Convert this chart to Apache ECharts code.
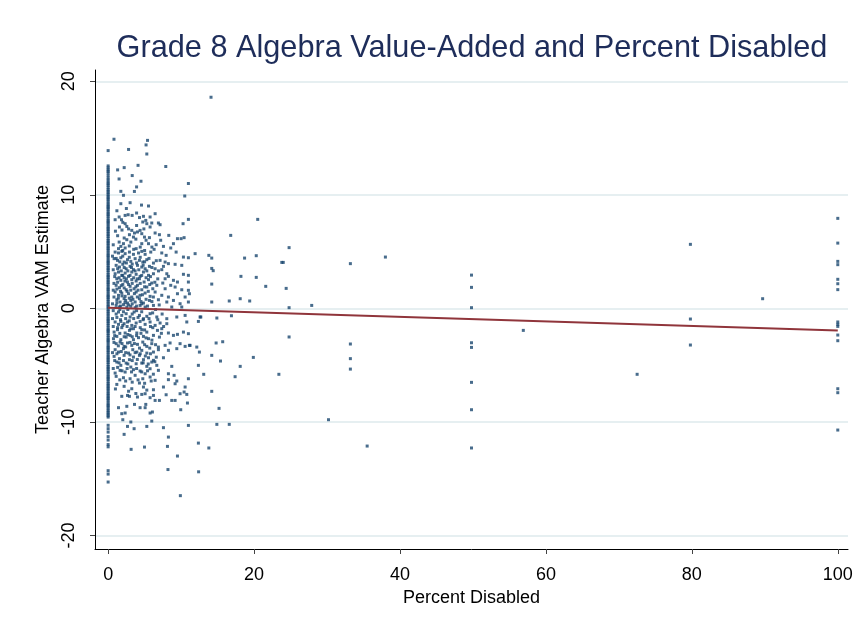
<!DOCTYPE html>
<html>
<head>
<meta charset="utf-8">
<script src="https://cdn.jsdelivr.net/npm/echarts@6/dist/echarts.min.js"></script>
<style>html,body{margin:0;padding:0;background:#fff;}#chart{width:862px;height:631px;}</style>
</head>
<body>
<div id="chart"></div>
<script>
// ---------- DATA ----------
const chartTitle = "Grade 8 Algebra Value-Added and Percent Disabled";
const xAxisTitle = "Percent Disabled";
const yAxisTitle = "Teacher Algebra VAM Estimate";
const xTickValues = [0, 20, 40, 60, 80, 100];
const yTickValues = [-20, -10, 0, 10, 20];

// teachers with 0% disabled (VAM estimates)
const zeroPctVam = [13.9, 12.55, 12.21, 11.93, 11.48, 11.12, 10.84, 10.47, 10.19, 9.88, 9.61, 9.27, 8.98, 8.73, 8.39,
  8.12, 7.76, 7.51, 7.18, 6.92, 6.61, 6.33, 5.98, 5.72, 5.41, 5.13, 4.79, 4.52, 4.18, 3.93, 3.61, 3.34, 2.97,
  2.72, 2.41, 2.13, 1.79, 1.52, 1.18, 0.94, 0.62, 0.31, 0.04, -0.27, -0.58, -0.91, -1.17, -1.49, -1.83, -2.06,
  -2.38, -2.71, -2.96, -3.32, -3.58, -3.87, -4.21, -4.49, -4.77, -5.12, -5.38, -5.69, -6.02, -6.28, -6.63,
  -6.91, -7.19, -7.52, -7.81, -8.08, -8.43, -8.69, -9.02, -9.31, -9.58, -10.3, -10.6, -10.9, -11.3, -11.6,
  -12.0, -12.2, -14.3, -14.6, -15.3];
const zeroPctVamMore = [12.38, 12.07, 11.7, 11.31, 10.98, 10.66, 10.33, 10.04, 9.74, 9.45, 9.12, 8.86, 8.55, 8.26,
  7.94, 7.63, 7.35, 7.05, 6.77, 6.47, 6.15, 5.85, 5.56, 5.27, 4.96, 4.65, 4.35, 4.06, 3.77, 3.47, 3.16, 2.85,
  2.56, 2.27, 1.96, 1.66, 1.35, 1.06, 0.78, 0.47, 0.17, -0.12, -0.43, -0.75, -1.04, -1.33, -1.66, -1.95, -2.22,
  -2.55, -2.84, -3.14, -3.45, -3.73, -4.04, -4.35, -4.63, -4.95, -5.25, -5.54, -5.86, -6.15, -6.46, -6.77,
  -7.05, -7.36, -7.66, -7.94, -8.26, -8.56, -8.86, -9.17, -9.45];

// [percent disabled, VAM] – upper part of cluster
const clusterHigh = [[14.1,18.6],[0.8,14.9],[2.8,14.0],[5.4,14.8],[5.2,14.4],[5.3,13.6],[1.3,12.2],[2.2,12.4],
  [4.1,12.6],[7.9,12.5],[1.5,11.4],[3.3,11.7],[4.5,11.2],[3.9,10.7],[3.6,10.3],[11.0,11.0],[10.5,9.9],
  [1.74,10.31],[2.10,9.96],[1.74,9.22],[3.01,9.31],[4.57,9.10],[5.53,9.02],[3.29,8.19],[2.74,8.25],[2.33,8.19],
  [1.51,8.05],[0.96,7.81],[1.83,7.81],[2.01,7.58],[2.33,7.46],[1.55,7.17],[2.56,7.22],[4.84,8.11],[5.16,7.75],
  [5.75,8.05],[6.44,8.34],[4.75,7.61],[5.30,7.46],[5.98,7.52],[6.89,7.52],[7.12,7.37],[5.75,7.17],[3.24,6.87],
  [3.61,6.64],[4.02,6.73],[4.38,6.87],[2.92,6.49],[3.47,6.28],[2.56,6.05],[3.11,5.84],[2.10,5.70],[1.51,5.84],
  [1.74,5.46],[2.33,5.32],[4.61,6.58],[4.98,6.28],[5.66,6.23],[6.44,6.64],[7.03,6.49],[8.31,6.43],[8.95,5.70],
  [9.50,6.14],[10.0,6.14],[10.41,6.23],[10.27,7.46],[11.0,7.84],[5.53,5.70],[6.58,5.61],[7.58,5.46],[8.58,5.32],
  [4.61,5.70],[3.84,5.26],[1.42,5.26]];

// middle of cluster (VAM between about 5 and -1)
const clusterMid = [[0.96,4.96],[1.42,4.88],[1.87,5.02],[2.33,4.82],[2.92,4.96],[3.47,4.76],[4.16,4.88],[4.61,5.02],
  [5.07,4.76],[5.84,4.96],[7.35,4.88],[7.95,4.67],[9.32,4.96],[10.32,4.52],[11.0,4.46],[11.92,4.82],
  [0.82,4.38],[1.28,4.23],[1.74,4.46],[2.19,4.08],[2.65,4.29],[3.11,4.14],[3.70,4.38],[4.29,4.23],[4.75,4.08],
  [5.30,4.29],[6.21,3.99],[7.12,4.23],[7.81,4.08],[8.26,3.94],[9.18,3.88],[10.09,3.79],
  [1.10,3.79],[1.55,3.64],[2.01,3.88],[2.47,3.49],[3.01,3.70],[3.47,3.41],[4.02,3.79],[4.61,3.64],[5.07,3.49],
  [5.66,3.70],[6.44,3.49],[7.35,3.41],[7.58,3.70],
  [0.96,3.05],[1.42,3.20],[1.87,2.91],[2.33,3.11],[2.79,2.82],[3.24,3.20],[3.84,3.00],[4.38,2.82],[4.84,3.20],
  [5.53,2.91],[6.21,3.05],[8.04,3.05],[8.26,2.82],[10.32,3.00],[11.0,2.91],
  [1.19,2.61],[1.74,2.47],[2.19,2.70],[2.65,2.32],[3.24,2.53],[3.84,2.41],[4.29,2.61],[4.93,2.32],[5.53,2.53],
  [5.98,2.23],[7.49,2.23],[7.81,2.61],[8.95,2.47],[9.50,2.32],[11.0,2.32],
  [1.10,2.03],[1.55,1.82],[2.01,2.11],[2.47,1.64],[3.01,1.94],[3.56,1.73],[4.02,2.03],[4.61,1.64],[5.30,1.88],
  [6.12,1.73],[6.67,2.03],[7.81,1.73],[8.58,2.03],[9.18,1.88],[10.09,1.64],[11.0,1.59],
  [0.96,1.44],[1.42,1.15],[1.87,1.35],[2.33,1.06],[2.79,1.29],[3.24,1.00],[3.84,1.44],[4.38,1.15],[5.07,1.35],
  [5.75,1.06],[6.44,1.44],[7.35,1.15],[8.26,1.00],[9.50,1.29],[10.55,1.00],[11.14,1.29],
  [1.19,0.76],[1.64,0.56],[2.19,0.85],[2.65,0.47],[3.11,0.70],[3.70,0.56],[4.29,0.85],[4.84,0.47],[5.66,0.70],
  [6.89,0.76],[8.04,0.56],[8.95,0.70],[9.86,0.41],[11.0,0.56],
  [1.10,0.26],[1.55,0.12],[2.10,0.32],[2.56,0.12],[3.11,0.18],[3.70,0.06],[4.38,0.26],[5.07,0.12],[6.21,0.26],
  [8.72,0.12],[10.09,0.12],
  [1.42,-0.32],[1.87,-0.62],[2.47,-0.47],[3.01,-0.76],[3.56,-0.32],[4.29,-0.62],[4.84,-0.91],[5.75,-0.47],
  [6.67,-0.76],[8.04,-0.91],[9.41,-0.76],[10.55,-0.62],[12.6,-0.76]];

// dense core of the cluster (additional teachers)
const clusterCore = [[1.2,8.6],[2.5,8.8],[3.9,8.4],[1.9,6.9],[2.8,7.0],[3.9,7.3],[4.3,8.0],[1.3,6.4],[2.2,6.2],
  [3.8,6.1],[4.9,7.0],[5.2,6.0],[6.0,5.4],[1.0,6.8],[2.0,5.1],[2.9,5.5],[3.5,5.2],[4.4,5.4],[5.0,5.1],[6.3,5.2],
  [7.2,6.0],[0.7,5.6],
  [0.6,4.6],[1.1,4.4],[1.6,4.1],[2.0,4.6],[2.5,4.0],[2.9,4.5],[3.3,3.9],[3.9,4.0],[4.4,4.5],[5.0,4.1],[5.6,4.4],
  [6.6,4.2],[0.7,3.4],[1.3,3.5],[1.8,3.3],[2.2,3.6],[2.7,3.3],[3.2,3.6],[3.7,3.3],[4.2,3.4],[4.8,3.8],[5.3,3.3],
  [6.0,3.6],[6.9,3.3],[0.9,2.8],[1.5,2.7],[2.0,2.9],[2.5,2.6],[3.0,2.9],[3.5,2.7],[4.0,2.6],[4.6,2.9],[5.2,2.7],
  [5.8,2.8],[6.8,2.6],[0.8,2.2],[1.3,2.3],[1.8,2.0],[2.3,2.4],[2.8,2.1],[3.3,2.2],[3.8,1.9],[4.4,2.2],[5.0,1.9],
  [5.7,2.1],[6.4,2.3],[0.7,1.6],[1.2,1.7],[1.7,1.5],[2.2,1.8],[2.6,1.5],[3.1,1.6],[3.6,1.3],[4.1,1.6],[4.7,1.2],
  [5.5,1.5],[6.2,1.0],[0.8,1.0],[1.4,0.9],[1.9,1.1],[2.4,0.7],[2.9,0.9],[3.4,0.8],[4.0,1.0],[4.5,0.6],[5.2,0.8],
  [6.0,0.6],[7.0,0.3],[0.6,0.4],[1.2,0.5],[1.7,0.2],[2.3,0.5],[2.8,0.3],[3.3,0.4],[3.9,0.2],[4.6,0.4],[5.4,0.2],
  [6.5,-0.1],[0.7,-0.2],[1.1,-0.5],[1.6,-0.1],[2.1,-0.3],[2.7,-0.1],[3.3,-0.5],[3.9,-0.2],[4.6,-0.3],[5.3,-0.7],
  [6.1,-0.4],[7.4,-0.5],
  [0.6,-0.9],[1.2,-0.8],[1.7,-1.0],[2.4,-0.9],[2.9,-1.1],[3.5,-0.9],[4.1,-0.8],[4.8,-1.0],[5.6,-0.9],[6.8,-1.0],
  [0.7,-1.6],[1.3,-1.7],[2.0,-1.5],[2.6,-1.6],[3.1,-1.8],[3.7,-1.6],[4.4,-1.7],[5.0,-1.9],[5.8,-1.6],[7.6,-1.6],
  [0.9,-2.4],[1.6,-2.2],[2.2,-2.5],[2.7,-2.3],[3.3,-2.5],[3.9,-2.4],[4.5,-2.2],[5.2,-2.6],[6.0,-2.8],[7.3,-2.2],
  [0.8,-3.0],[1.4,-3.3],[1.9,-3.1],[2.4,-3.4],[3.0,-3.0],[3.6,-3.1],[4.3,-3.5],[5.0,-3.2],[5.7,-3.5],[6.5,-3.2],
  [0.6,-3.9],[1.2,-4.0],[1.8,-3.8],[2.4,-3.9],[3.0,-4.1],[3.7,-3.9],[4.4,-4.0],[5.1,-4.2],[5.8,-4.0],[6.6,-4.3],
  [0.9,-4.6],[1.5,-4.8],[2.1,-4.6],[2.7,-4.9],[3.3,-4.6],[4.0,-4.5],[4.8,-4.8],[5.5,-4.9],[6.4,-4.7],
  [0.7,-5.3],[1.3,-5.2],[1.9,-5.5],[2.6,-5.3],[3.2,-5.6],[3.9,-5.3],[4.6,-5.6],[5.4,-5.5],[6.2,-5.8],
  [1.6,-6.3],[2.4,-6.4],[3.3,-6.5],[4.1,-6.3],[5.0,-6.6],[5.9,-6.4],[1.0,-7.1],[2.8,-7.3],[3.8,-7.5],[5.3,-7.2]];

// lower part of cluster
const clusterLow = [[0.96,-1.20],[1.42,-1.41],[1.74,-1.15],[2.19,-1.35],[2.65,-1.20],[3.24,-1.50],[3.84,-1.29],
  [4.38,-1.15],[5.07,-1.41],[5.75,-1.20],[6.44,-1.50],[7.12,-1.29],[8.04,-1.35],[10.78,-1.20],[12.37,-1.15],
  [0.82,-2.09],[1.28,-1.88],[1.87,-1.70],[2.33,-2.17],[2.92,-1.94],[3.47,-1.79],[3.93,-2.17],[4.61,-1.88],
  [5.30,-2.09],[6.12,-1.70],[6.76,-1.94],[7.35,-1.79],[8.26,-2.17],[8.95,-2.38],[9.50,-2.29],[10.32,-2.09],
  [11.0,-2.23],[11.14,-3.26],
  [0.73,-2.67],[1.19,-2.47],[1.74,-2.76],[2.47,-2.53],[3.01,-2.38],[3.47,-2.76],[4.16,-2.58],[4.84,-2.47],
  [5.53,-2.67],[6.21,-2.38],[7.03,-2.53],[8.49,-3.05],[9.86,-3.11],[10.55,-3.35],[11.23,-3.26],[12.15,-3.41],
  [1.10,-3.11],[1.64,-2.97],[2.19,-3.35],[2.65,-3.05],[3.24,-3.26],[4.02,-3.17],[4.75,-2.97],[5.30,-3.35],
  [5.98,-3.11],[6.89,-3.41],[7.81,-3.26],
  [0.96,-3.64],[1.42,-3.85],[2.10,-3.55],[2.79,-3.94],[3.38,-3.64],[3.93,-3.85],[4.61,-3.70],[5.30,-3.94],
  [6.21,-3.85],[6.89,-3.64],[8.26,-3.70],[9.41,-3.55],[12.51,-3.85],
  [0.82,-4.23],[1.55,-4.43],[2.19,-4.14],[2.92,-4.52],[3.47,-4.29],[4.29,-4.14],[4.84,-4.52],[5.53,-4.35],
  [6.21,-4.58],[7.58,-4.35],
  [1.19,-4.73],[1.74,-5.02],[2.47,-4.82],[3.11,-5.17],[3.84,-4.88],[4.61,-4.82],[5.30,-5.11],[5.98,-4.73],
  [6.67,-5.02],[8.72,-5.11],[12.37,-5.02],
  [0.96,-5.70],[1.64,-5.46],[2.33,-5.61],[3.47,-5.40],[4.38,-5.52],[5.07,-5.76],[5.75,-5.32],[6.89,-5.46],
  [8.26,-5.76],[9.04,-5.90],
  [1.10,-5.99],[2.10,-6.11],[3.01,-6.20],[3.70,-5.90],[4.75,-6.20],[5.75,-6.05],[6.44,-6.34],[8.26,-6.28],
  [9.41,-6.40],[11.0,-6.20],
  [1.19,-6.70],[2.19,-6.87],[3.24,-7.08],[4.29,-6.58],[4.84,-6.93],[6.21,-7.17],[7.58,-6.93],[9.18,-6.64],
  [10.55,-6.93],
  [1.87,-7.75],[2.65,-7.67],[2.92,-7.75],[4.02,-7.81],[4.61,-7.58],[5.07,-7.52],[5.75,-7.87],[6.21,-7.67],
  [6.44,-8.11],[7.03,-8.11],[7.95,-7.61],[8.72,-8.11],[9.18,-8.11],[9.86,-7.52],[10.41,-7.37],[10.78,-7.58],
  [10.87,-8.34],[9.95,-8.93],
  [1.42,-8.75],[1.87,-9.28],[2.33,-9.22],[2.01,-9.81],[3.61,-8.46],[4.38,-8.75],[5.07,-8.75],[5.16,-8.46],
  [5.75,-9.22],[6.07,-9.13],[2.56,-8.63],[3.11,-10.01],[2.65,-10.40],[3.56,-10.60],[5.30,-10.40],[5.98,-9.93],
  [7.58,-10.51],[11.0,-10.31],
  [2.19,-11.10],[8.26,-11.34],[12.37,-11.87],[3.15,-12.42],[4.98,-12.22],[8.13,-12.16],[9.50,-13.01],
  [8.2,-14.2],[12.4,-14.4],[9.9,-16.5]];

// schools with higher percent disabled
const sparsePoints = [[13.8,4.67],[14.2,4.43],[14.2,3.52],[14.4,3.32],[14.2,2.14],[14.2,0.56],[12.7,-0.76],
  [14.9,-0.85],[14.8,-3.05],[14.2,-4.14],[13.1,-5.81],[14.2,-7.31],[15.2,-8.81],[14.9,-10.22],[13.8,-12.3],
  [20.5,7.84],[16.8,6.43],[24.8,5.35],[18.7,4.43],[20.3,4.64],[23.8,4.05],[24.0,4.05],[33.2,3.94],[38.0,4.52],
  [18.2,2.82],[20.3,2.73],[21.6,1.94],[24.4,1.76],[49.8,2.93],[49.8,1.85],[16.6,0.65],[18.1,0.85],[19.4,0.65],
  [24.8,0.06],[27.9,0.26],[49.8,0.06],[16.9,-0.65],[56.9,-1.94],[24.8,-2.52],[15.7,-2.94],[33.2,-3.14],
  [49.8,-3.03],[49.8,-3.44],[15.4,-4.64],[19.9,-4.32],[18.1,-5.11],[33.2,-4.43],[33.2,-5.35],[17.4,-6.02],
  [23.4,-5.81],[49.8,-6.52],[49.8,-8.93],[16.6,-10.22],[30.2,-9.81],[35.5,-12.13],[49.8,-12.3],
  [100,7.93],[100,5.75],[100,4.14],[100,3.85],[100,2.56],[100,2.17],[100,1.65],[79.8,5.64],[89.7,0.85],
  [79.8,-0.94],[79.8,-3.23],[100,-1.2],[100,-1.41],[100,-1.59],[100,-2.35],[100,-2.85],[72.5,-5.81],
  [100,-7.08],[100,-7.43],[100,-10.72]];

// fitted line endpoints
const fitX = [0, 100];
const fitY = [0.05, -1.96];

// ---------- CHART ----------
const points = zeroPctVam.concat(zeroPctVamMore).map(v => [0, v])
  .concat(clusterHigh, clusterMid, clusterCore, clusterLow, sparsePoints);
const fitLine = fitX.map((x, i) => [x, fitY[i]]);

const FONT = "'Liberation Sans', Arial, sans-serif";
const chart = echarts.init(document.getElementById('chart'), null, {renderer: 'canvas'});
chart.setOption({
  animation: false,
  backgroundColor: '#ffffff',
  title: {
    text: chartTitle,
    left: 467, top: 28, textAlign: 'center',
    textStyle: {fontFamily: FONT, fontSize: 30.7, fontWeight: 'normal', color: '#1e2d5a'}
  },
  grid: {left: 95, right: 14, top: 70, bottom: 82},
  xAxis: {
    type: 'value', min: -1.8, max: 101.4,
    name: xAxisTitle, nameLocation: 'middle', nameGap: 40,
    nameTextStyle: {fontFamily: FONT, fontSize: 18, color: '#000'},
    axisLine: {show: true, onZero: false, lineStyle: {color: '#000', width: 1}},
    axisTick: {show: true, length: 5, customValues: xTickValues, lineStyle: {color: '#444'}},
    axisLabel: {customValues: xTickValues, fontFamily: FONT, fontSize: 18, color: '#000', margin: 17},
    splitLine: {show: false}
  },
  yAxis: {
    type: 'value', min: -21.2, max: 21,
    name: yAxisTitle, nameLocation: 'middle', nameGap: 42, nameRotate: 90,
    nameTextStyle: {fontFamily: FONT, fontSize: 18, color: '#000'},
    axisLine: {show: true, onZero: false, lineStyle: {color: '#000', width: 1}},
    axisTick: {show: true, length: 5, customValues: yTickValues, lineStyle: {color: '#444'}},
    axisLabel: {customValues: yTickValues, rotate: 90, fontFamily: FONT, fontSize: 18, color: '#000', margin: 17},
    splitLine: {show: true, lineStyle: {color: '#e6eff1', width: 2}}
  },
  series: [
    {
      type: 'scatter', data: points, symbol: 'rect', symbolSize: 3,
      itemStyle: {color: '#1a476f'}, z: 2
    },
    {
      type: 'line', data: fitLine, symbol: 'none',
      lineStyle: {color: '#90353b', width: 2}, z: 3
    }
  ]
});
</script>
</body>
</html>
